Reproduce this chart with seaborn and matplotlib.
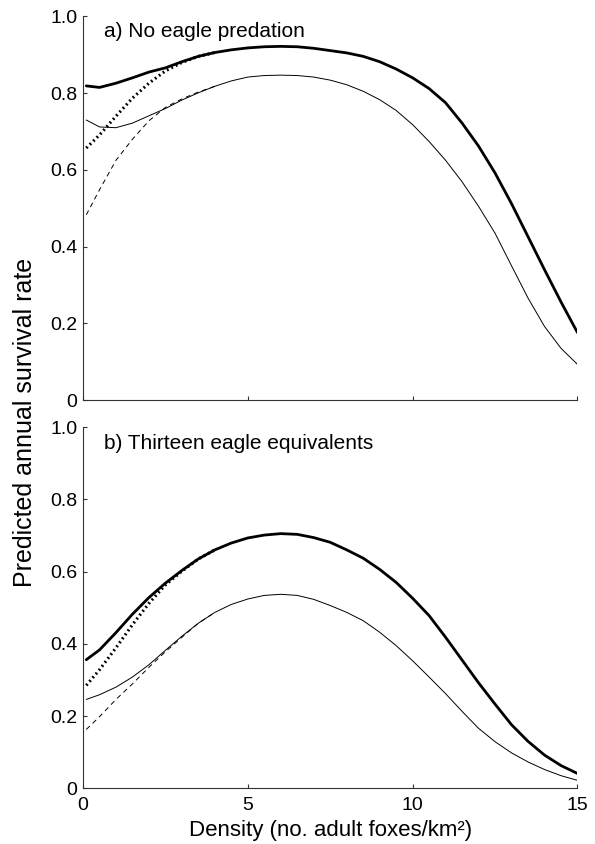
import numpy as np
import pandas as pd
import seaborn as sns
import matplotlib.pyplot as plt

# density grid (no. adult foxes/km2)
density = [0.1, 0.5, 1.0, 1.5, 2.0, 2.5, 3.0, 3.5, 4.0, 4.5, 5.0, 5.5, 6.0, 6.5, 7.0, 7.5,
           8.0, 8.5, 9.0, 9.5, 10.0, 10.5, 11.0, 11.5, 12.0, 12.5, 13.0, 13.5, 14.0, 14.5, 15.0]
density_low = [0.1, 0.5, 1.0, 1.5, 2.0, 2.5, 3.0, 3.5, 4.0]

# a) no eagle predation
a_thick = [0.819, 0.815, 0.826, 0.840, 0.855, 0.866, 0.882, 0.896, 0.906, 0.913, 0.918, 0.921,
           0.922, 0.921, 0.917, 0.911, 0.905, 0.896, 0.882, 0.863, 0.840, 0.812, 0.775, 0.722,
           0.662, 0.592, 0.512, 0.426, 0.340, 0.256, 0.176]
a_thin = [0.730, 0.712, 0.710, 0.722, 0.741, 0.760, 0.782, 0.801, 0.818, 0.832, 0.842, 0.846,
          0.847, 0.846, 0.842, 0.834, 0.822, 0.805, 0.783, 0.755, 0.718, 0.674, 0.625, 0.569,
          0.505, 0.435, 0.350, 0.266, 0.192, 0.135, 0.093]
a_dotted = [0.657, 0.691, 0.740, 0.787, 0.826, 0.858, 0.880, 0.896, 0.906]
a_dashed = [0.483, 0.548, 0.625, 0.680, 0.728, 0.763, 0.785, 0.803, 0.818]

# b) thirteen eagle equivalents
b_thick = [0.356, 0.383, 0.431, 0.482, 0.528, 0.568, 0.603, 0.635, 0.660, 0.679, 0.693, 0.701,
           0.705, 0.703, 0.694, 0.681, 0.660, 0.637, 0.606, 0.570, 0.526, 0.478, 0.418, 0.355,
           0.292, 0.233, 0.176, 0.130, 0.092, 0.063, 0.041]
b_thin = [0.246, 0.259, 0.280, 0.308, 0.342, 0.382, 0.421, 0.457, 0.487, 0.509, 0.524, 0.534,
          0.537, 0.534, 0.523, 0.506, 0.487, 0.464, 0.432, 0.395, 0.353, 0.308, 0.262, 0.213,
          0.166, 0.129, 0.098, 0.073, 0.052, 0.035, 0.022]
b_dotted = [0.285, 0.328, 0.389, 0.453, 0.512, 0.563, 0.601, 0.635, 0.660]
b_dashed = [0.163, 0.198, 0.246, 0.289, 0.335, 0.378, 0.418, 0.457, 0.487]

panel_titles = ["a) No eagle predation", "b) Thirteen eagle equivalents"]
yticks = [0, 0.2, 0.4, 0.6, 0.8, 1.0]
yticklabels = ["0", "0.2", "0.4", "0.6", "0.8", "1.0"]
xticks = [0, 5, 10, 15]

sns.set_style("ticks")
plt.rcParams["font.family"] = ["Liberation Sans", "DejaVu Sans"]

fig = plt.figure(figsize=(5.95, 8.44), dpi=100)
ax_a = fig.add_axes([0.1395, 0.526, 0.831, 0.4545])
ax_b = fig.add_axes([0.1395, 0.066, 0.831, 0.428])

panels = [
    (ax_a, a_thick, a_thin, a_dotted, a_dashed),
    (ax_b, b_thick, b_thin, b_dotted, b_dashed),
]

for i, (ax, thick, thin, dotted, dashed) in enumerate(panels):
    sns.lineplot(x=density, y=thin, ax=ax, color="black", lw=0.7)
    sns.lineplot(x=density_low, y=dashed, ax=ax, color="black", lw=0.7)
    ax.lines[-1].set_dashes([5, 4])
    sns.lineplot(x=density, y=thick, ax=ax, color="black", lw=2.0)
    sns.lineplot(x=density_low, y=dotted, ax=ax, color="black", lw=2.2)
    ax.lines[-1].set_dashes([0.6, 1.0])

    ax.set_xlim(0, 15)
    ax.set_ylim(0, 1.0)
    ax.set_yticks(yticks)
    ax.set_yticklabels(yticklabels)
    ax.set_xticks(xticks)
    if i == 0:
        ax.set_xticklabels([])
    ax.tick_params(direction="in", length=3, width=0.8, labelsize=14, color="#333333",
                   labelcolor="black")
    ax.tick_params(axis="y", pad=4)
    ax.tick_params(axis="x", pad=6)
    for side in ["left", "bottom"]:
        ax.spines[side].set_linewidth(0.8)
        ax.spines[side].set_color("#333333")
    sns.despine(ax=ax)
    ax.text(0.65, 0.962 if i == 0 else 0.955, panel_titles[i], fontsize=15, va="center",
            ha="left", color="black")

ax_b.set_xlabel("Density (no. adult foxes/km²)", fontsize=16, va="center", color="black")
ax_b.xaxis.set_label_coords(0.5, -0.116)
fig.text(0.042, 0.5, "Predicted annual survival rate", rotation=90, fontsize=18,
         va="center", ha="center", color="black")

plt.savefig("out.png", dpi=100)
